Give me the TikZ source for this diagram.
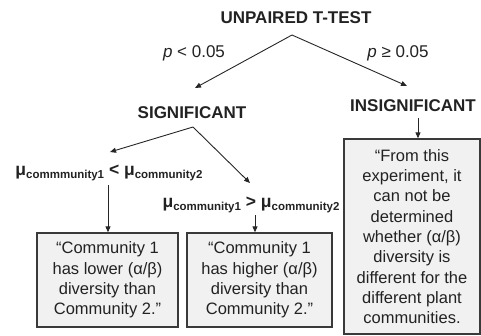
\documentclass[tikz,border=0pt]{standalone}
\usepackage{fontspec}
\setmainfont{Liberation Sans}
\usetikzlibrary{arrows.meta}
\definecolor{txt}{HTML}{222222}
\definecolor{boxfill}{HTML}{F1F1F1}
\definecolor{boxline}{HTML}{3A3A3A}
\tikzset{
  head/.style={font=\fontsize{17}{20}\selectfont\bfseries, text=txt, inner sep=0pt},
  plab/.style={font=\fontsize{17}{20}\selectfont, text=txt, inner sep=0pt},
  mulab/.style={font=\fontsize{17.5}{20}\selectfont\bfseries, text=txt, inner sep=0pt},
  resbox/.style={draw=boxline, line width=1.3pt, fill=boxfill, text=txt, align=center,
    font=\fontsize{16.5}{20.3}\selectfont, inner sep=0pt},
  arr/.style={draw=black!85, line width=0.9pt, -{Triangle[length=6pt,width=5pt]}}
}
\newcommand{\musub}[1]{\raisebox{-3.5pt}{\fontsize{11.5}{12}\selectfont\bfseries #1}}
\begin{document}
\begin{tikzpicture}[x=1pt,y=-1pt]
\useasboundingbox (0,0) rectangle (481,335);
% headings
\node[head] (title) at (296,18) {UNPAIRED T-TEST};
\node[plab] (plt) at (194,53) {\textit{p} < 0.05};
\node[plab] (pge) at (398,53) {\textit{p} ≥ 0.05};
\node[head] (sig) at (192,113) {SIGNIFICANT};
\node[head] (insig) at (413,106) {INSIGNIFICANT};
% mu labels
\node[mulab] (less) at (109,173) {μ\musub{commmunity1} < μ\musub{community2}};
\node[mulab] (greater) at (251,205) {μ\musub{community1} > μ\musub{community2}};
% boxes
\node[resbox, minimum width=141pt, minimum height=94pt] (box1) at (107.5,280)
  {“Community 1\\has lower (α/β)\\diversity than\\Community 2.”};
\node[resbox, minimum width=145pt, minimum height=94pt] (box2) at (259.5,280)
  {“Community 1\\has higher (α/β)\\diversity than\\Community 2.”};
\node[resbox, minimum width=136pt, minimum height=195pt] (box3) at (412,236.5)
  {“From this\\experiment, it\\can not be\\determined\\whether (α/β)\\diversity is\\different for the\\different plant\\communities.};
% connector endpoints
\coordinate (tA) at (292,35);
\coordinate (sA) at (193,127);
\draw[arr] (tA) -- (195,88) coordinate (sigTop);
\draw[arr] (tA) -- (407,86) coordinate (insigTop);
\draw[arr] (sA) -- (110,152) coordinate (lessTop);
\draw[arr] (sA) -- (250,183) coordinate (greaterTop);
\draw[arr] (108,185) -- (box1.north -| 108,0);
\draw[arr] (255,215) -- (box2.north -| 255,0);
\draw[arr] (418,118) -- (box3.north -| 418,0);
\end{tikzpicture}
\end{document}
